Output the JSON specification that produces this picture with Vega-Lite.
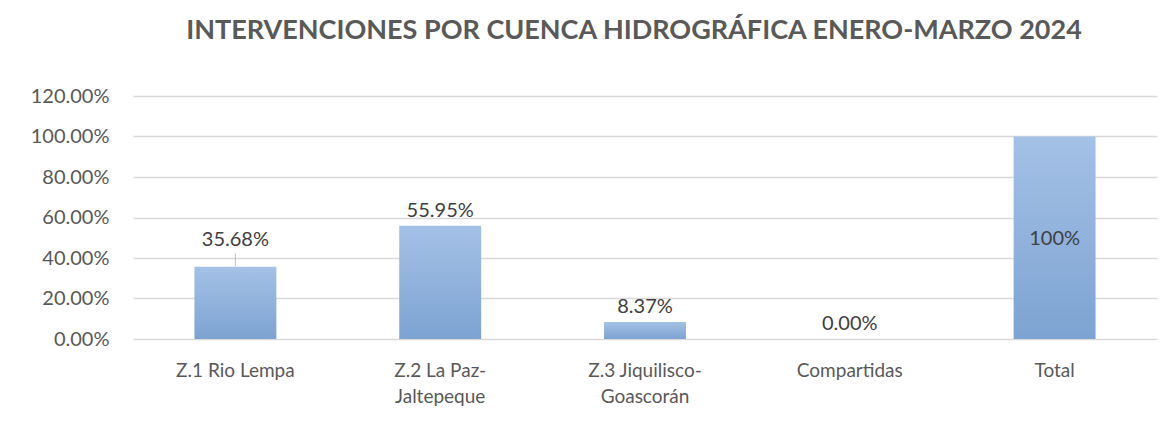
{
  "$schema": "https://vega.github.io/schema/vega-lite/v6.json",
  "width": 1024,
  "height": 243,
  "autosize": {"type": "none"},
  "padding": {"left": 133, "top": 96, "right": 14, "bottom": 88},
  "background": "white",
  "config": {
    "font": "Lato",
    "view": {"stroke": null}
  },
  "title": {
    "text": "INTERVENCIONES POR CUENCA HIDROGRÁFICA ENERO-MARZO 2024",
    "font": "Lato",
    "fontSize": 27,
    "fontWeight": "bold",
    "color": "#595959",
    "anchor": "middle",
    "offset": 41,
    "dx": -11
  },
  "data": {
    "values": [
      {"zona": "Z.1 Rio Lempa", "valor": 0.3568, "etiqueta": "35.68%"},
      {"zona": "Z.2 La Paz-Jaltepeque", "valor": 0.5595, "etiqueta": "55.95%"},
      {"zona": "Z.3 Jiquilisco-Goascorán", "valor": 0.0837, "etiqueta": "8.37%"},
      {"zona": "Compartidas", "valor": 0.0, "etiqueta": "0.00%"},
      {"zona": "Total", "valor": 1.0, "etiqueta": "100%"}
    ]
  },
  "encoding": {
    "x": {
      "field": "zona",
      "type": "nominal",
      "sort": null,
      "scale": {"paddingInner": 0.6, "paddingOuter": 0.3},
      "axis": {
        "title": null,
        "labelAngle": 0,
        "labelFontSize": 19,
        "labelColor": "#595959",
        "labelPadding": 22,
        "labelLineHeight": 26,
        "ticks": false,
        "domain": false,
        "labelExpr": "datum.label == 'Z.2 La Paz-Jaltepeque' ? ['Z.2 La Paz-', 'Jaltepeque'] : datum.label == 'Z.3 Jiquilisco-Goascorán' ? ['Z.3 Jiquilisco-', 'Goascorán'] : datum.label"
      }
    },
    "y": {
      "field": "valor",
      "type": "quantitative",
      "scale": {"domain": [0, 1.2], "nice": false},
      "axis": {
        "title": null,
        "values": [0, 0.2, 0.4, 0.6, 0.8, 1.0, 1.2],
        "format": ".2%",
        "labelFontSize": 20,
        "labelColor": "#595959",
        "labelPadding": 24,
        "ticks": false,
        "domain": false,
        "gridColor": "#d9d9d9",
        "gridWidth": 1.5
      }
    }
  },
  "layer": [
    {
      "mark": {
        "type": "bar",
        "color": {
          "gradient": "linear",
          "x1": 0, "y1": 0, "x2": 0, "y2": 1,
          "stops": [
            {"offset": 0, "color": "#a4c1e6"},
            {"offset": 1, "color": "#7da3d2"}
          ]
        }
      }
    },
    {
      "transform": [{"filter": "datum.zona != 'Total' && datum.zona != 'Z.1 Rio Lempa'"}],
      "mark": {"type": "text", "baseline": "bottom", "dy": -5, "fontSize": 20, "color": "#404040"},
      "encoding": {"text": {"field": "etiqueta"}}
    },
    {
      "transform": [{"filter": "datum.zona == 'Z.1 Rio Lempa'"}],
      "mark": {"type": "text", "baseline": "bottom", "dy": -17, "fontSize": 20, "color": "#404040"},
      "encoding": {"text": {"field": "etiqueta"}}
    },
    {
      "transform": [{"filter": "datum.zona == 'Z.1 Rio Lempa'"}],
      "mark": {"type": "tick", "orient": "vertical", "size": 13, "yOffset": -7, "color": "#a6a6a6", "thickness": 1}
    },
    {
      "transform": [{"filter": "datum.zona == 'Total'"}],
      "mark": {"type": "text", "baseline": "middle", "dy": 102, "fontSize": 20, "color": "#404040"},
      "encoding": {"text": {"field": "etiqueta"}}
    }
  ]
}
